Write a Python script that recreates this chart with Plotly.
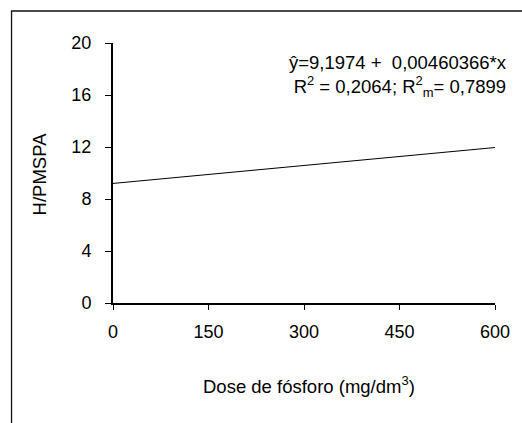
import plotly.graph_objects as go

# Fitted regression: H/PMSPA as a function of phosphorus dose
dose = [0, 600]
intercept = 9.1974
slope = 0.00460366
fitted = [intercept + slope * d for d in dose]

x_ticks = [0, 150, 300, 450, 600]
y_ticks = [0, 4, 8, 12, 16, 20]

FONT = "Liberation Sans, Arial, sans-serif"
W, H = 522, 423
L, R, T, B = 113, 25, 43, 120
pw, ph = W - L - R, H - T - B

def px_x(p):
    return (p - L) / pw

def px_y(p):
    return (H - B - p) / ph

fig = go.Figure()
fig.add_trace(go.Scatter(x=dose, y=fitted, mode="lines",
                         line=dict(color="black", width=1), showlegend=False,
                         hoverinfo="skip"))

fig.update_layout(
    width=W, height=H,
    margin=dict(l=L, r=R, t=T, b=B),
    paper_bgcolor="white", plot_bgcolor="white",
    font=dict(family=FONT, size=18.5, color="black"),
    xaxis=dict(range=[0, 600], tickvals=x_ticks, showgrid=False, zeroline=False,
               showline=True, linecolor="black", linewidth=2,
               ticks="outside", ticklen=5, tickwidth=1, tickcolor="black",
               tickfont=dict(size=18), ticklabelstandoff=6),
    yaxis=dict(range=[0, 20], tickvals=y_ticks, showgrid=False, zeroline=False,
               showline=True, linecolor="black", linewidth=2,
               ticks="outside", ticklen=6, tickwidth=1, tickcolor="black",
               tickfont=dict(size=18), ticklabelstandoff=10),
    shapes=[dict(type="rect", xref="paper", yref="paper",
                 x0=px_x(11), x1=px_x(560), y0=px_y(480), y1=px_y(11),
                 line=dict(color="#111", width=1.3), layer="below")],
    annotations=[
        dict(text="Dose de fósforo (mg/dm<sup>3</sup>)", xref="paper", yref="paper",
             x=px_x(310), y=px_y(385), showarrow=False, xanchor="center", yanchor="middle"),
        dict(text="H/PMSPA", xref="paper", yref="paper", textangle=-90,
             x=px_x(39), y=px_y(174), showarrow=False, xanchor="center", yanchor="middle"),
        dict(text="ŷ=9,1974 +  0,00460366*x<br>R<sup>2</sup> = 0,2064; R<sup>2</sup><sub>m</sub>= 0,7899",
             xref="paper", yref="paper", x=px_x(511), y=px_y(50), showarrow=False,
             xanchor="right", yanchor="top", align="right"),
    ],
)

fig.write_html("out.html")
